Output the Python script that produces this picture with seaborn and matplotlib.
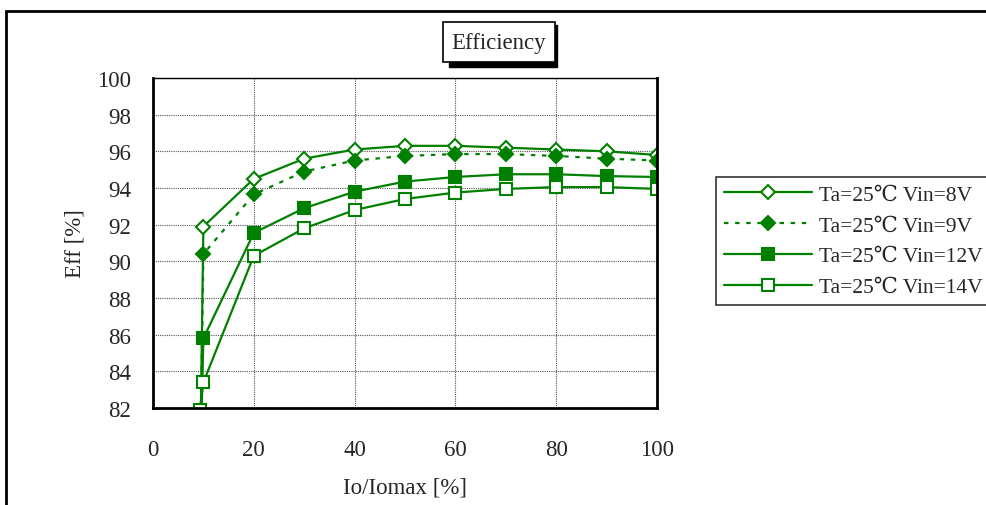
import matplotlib.pyplot as plt
import matplotlib.patches as mpatches
import seaborn as sns

# Data
load = [9.3, 10, 20, 30, 40, 50, 60, 70, 80, 90, 100]
eff_8v = [78.0, 91.9, 94.5, 95.6, 96.1, 96.3, 96.3, 96.2, 96.1, 96.0, 95.8]
eff_9v = [78.0, 90.4, 93.65, 94.9, 95.5, 95.75, 95.85, 95.85, 95.75, 95.6, 95.5]
eff_12v = [78.0, 85.8, 91.55, 92.9, 93.8, 94.35, 94.6, 94.75, 94.75, 94.65, 94.6]
eff_14v = [81.9, 83.4, 90.3, 91.8, 92.8, 93.4, 93.75, 93.95, 94.05, 94.05, 93.95]
labels = ["Ta=25℃ Vin=8V", "Ta=25℃ Vin=9V", "Ta=25℃ Vin=12V", "Ta=25℃ Vin=14V"]

sns.set_style("white")
plt.rcParams["font.family"] = ["Liberation Serif", "DejaVu Serif", "Noto Sans CJK JP"]

green = "#008000"
fig = plt.figure(figsize=(9.87, 5.06), dpi=100)
ax = fig.add_axes([153 / 987, 1 - 409 / 506, 504 / 987, 330 / 506])

styles = [
    (eff_8v, "D", "white", "-", 7),
    (eff_9v, "D", green, (0, (2, 3)), 7),
    (eff_12v, "s", green, "-", 8),
    (eff_14v, "s", "white", "-", 8),
]
for (vals, mk, fc, ls, ms), lab in zip(styles, labels):
    sns.lineplot(x=load, y=vals, ax=ax, sort=False, color=green, marker=mk,
                 markerfacecolor=fc, markeredgecolor=green, markeredgewidth=1.5,
                 markersize=ms, linestyle=ls, linewidth=1.6, label=lab)

ax.set_xlim(0, 100)
ax.set_ylim(82, 100)
ax.set_xticks(range(0, 101, 20))
ax.set_yticks(range(82, 101, 2))
ax.grid(True, color="#555555", linestyle=(0, (1, 1)), linewidth=0.8)
ax.tick_params(axis="both", labelsize=16.5, length=0, pad=16)
ax.tick_params(axis="x", pad=22)
for name, sp in ax.spines.items():
    sp.set_visible(True)
    sp.set_color("black")
    sp.set_linewidth(2 if name in ("left", "bottom", "right") else 1)

ax.set_xlabel("Io/Iomax [%]", fontsize=16.5, labelpad=12)
ax.set_ylabel("Eff [%]", fontsize=16.5, labelpad=8)

leg = ax.legend(loc="upper left", bbox_to_anchor=(716 / 987, 1 - 178 / 506),
                bbox_transform=fig.transFigure, fontsize=15.5, frameon=True,
                fancybox=False, edgecolor="black", handlelength=4.1,
                borderpad=0.35, labelspacing=0.5, handletextpad=0.35,
                borderaxespad=0)
leg.get_frame().set_linewidth(1.2)

# title box with shadow
fig.patches.append(mpatches.Rectangle((449 / 987, 1 - 68 / 506), 108 / 987, 42 / 506,
                                      transform=fig.transFigure, facecolor="black",
                                      edgecolor="black", zorder=1))
fig.text(499 / 987, 1 - 43 / 506, "Efficiency", fontsize=16.5, ha="center", va="center",
         zorder=2, bbox=dict(boxstyle="square,pad=0.4", facecolor="white",
                             edgecolor="black", linewidth=1.2))

# outer chart frame (cut off at right and bottom)
fig.patches.append(mpatches.Rectangle((6 / 987, -0.1), 1.2, 1.1 - 12 / 506,
                                      transform=fig.transFigure, fill=False,
                                      edgecolor="black", linewidth=2))

fig.savefig("out.png", dpi=100)
